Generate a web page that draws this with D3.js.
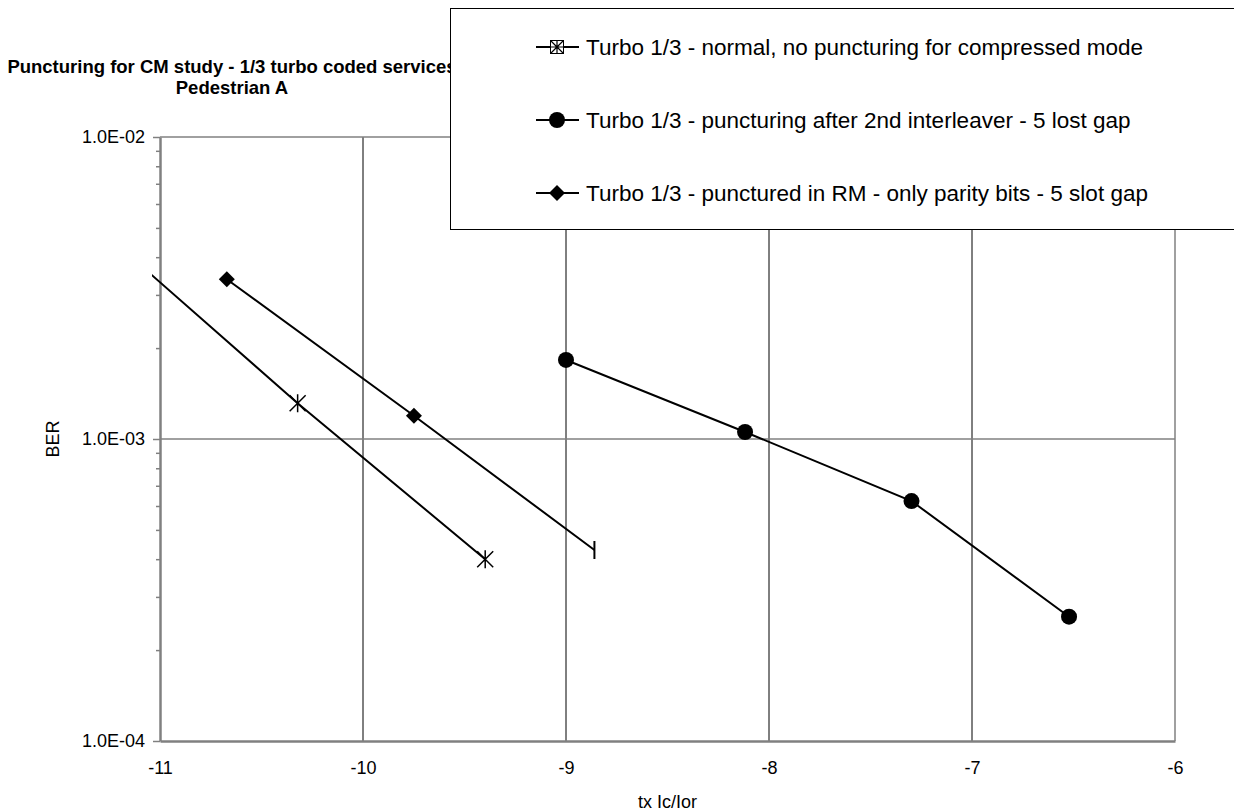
<html>
<head>
  <script src="https://d3js.org/d3.v7.min.js"></script>
  <meta charset="utf-8">
  <title>Puncturing for CM study</title>
<style>
body {
  margin: 0;
  background: #fff;
}
svg {
  background: #fff;
  font-family: "Liberation Sans", Arial, sans-serif;
}
</style>
</head>
<body>
<script>
var width = 1234,
    height = 812;

// chart text
var titleLines = ['Puncturing for CM study - 1/3 turbo coded services', 'Pedestrian A'];
var xTitle = 'tx Ic/Ior';
var yTitle = 'BER';
var xTicks = [-11, -10, -9, -8, -7, -6];
var yTicks = [1e-2, 1e-3, 1e-4];
var yTickLabels = ['1.0E-02', '1.0E-03', '1.0E-04'];
var yMinor = [2, 3, 4, 5, 6, 7, 8, 9];

// series (x = tx Ic/Ior, y = BER)
var seriesNames = [
  'Turbo 1/3 - normal, no puncturing for compressed mode',
  'Turbo 1/3 - puncturing after 2nd interleaver - 5 lost gap',
  'Turbo 1/3 - punctured in RM - only parity bits - 5 slot gap'
];
var normalX = [-11.3, -10.322, -9.398];
var normalY = [4.97e-3, 1.313e-3, 4.0e-4];
var interleaverX = [-9.0, -8.118, -7.298, -6.522];
var interleaverY = [1.827e-3, 1.055e-3, 6.23e-4, 2.58e-4];
var rmX = [-10.671, -9.749, -8.860];
var rmY = [3.38e-3, 1.194e-3, 4.29e-4];

var svg = d3.select('body').append('svg')
  .attr('width', width)
  .attr('height', height);

var plot = {left: 160, right: 1175, top: 137, bottom: 741};

var x = d3.scaleLinear().domain([-11, -6]).range([plot.left, plot.right]);
var y = d3.scaleLog().domain([1e-4, 1e-2]).range([plot.bottom, plot.top]);

var grey = '#808080';

// title
svg.append('g').selectAll('text')
  .data(titleLines)
  .enter().append('text')
  .attr('x', 232)
  .attr('y', function (d, i) { return 73 + i * 21; })
  .attr('text-anchor', 'middle')
  .style('font-size', '18.5px')
  .style('font-weight', 'bold')
  .text(function (d) { return d; });

// vertical gridlines
svg.append('g').selectAll('line')
  .data(xTicks.slice(1, -1))
  .enter().append('line')
  .attr('x1', function (d) { return x(d); })
  .attr('x2', function (d) { return x(d); })
  .attr('y1', plot.top)
  .attr('y2', plot.bottom)
  .style('stroke', '#000')
  .style('stroke-width', 1);

// horizontal gridlines
svg.append('g').selectAll('line')
  .data(yTicks.slice(0, -1))
  .enter().append('line')
  .attr('x1', plot.left)
  .attr('x2', plot.right)
  .attr('y1', function (d) { return y(d); })
  .attr('y2', function (d) { return y(d); })
  .style('stroke', grey)
  .style('stroke-width', 1.5);

// right border
svg.append('line')
  .attr('x1', plot.right).attr('x2', plot.right)
  .attr('y1', plot.top).attr('y2', plot.bottom)
  .style('stroke', grey)
  .style('stroke-width', 1.5);

// minor ticks on the y axis
var minor = [];
[1e-4, 1e-3].forEach(function (dec) {
  yMinor.forEach(function (m) { minor.push(dec * m); });
});
var yMinorAxis = d3.axisLeft(y).tickValues(minor).tickSize(4).tickFormat('');
var gyMinor = svg.append('g')
  .attr('transform', 'translate(' + plot.left + ',0)')
  .call(yMinorAxis);
gyMinor.select('.domain').remove();
gyMinor.selectAll('line').style('stroke', grey).style('stroke-width', 1.5);

// y axis
var yAxis = d3.axisLeft(y)
  .tickValues(yTicks)
  .tickSize(7)
  .tickPadding(8)
  .tickSizeOuter(0)
  .tickFormat(function (d, i) { return yTickLabels[i]; });
var gy = svg.append('g')
  .attr('transform', 'translate(' + plot.left + ',0)')
  .call(yAxis);
gy.select('.domain').style('stroke', grey).style('stroke-width', 2.5);
gy.selectAll('.tick line').style('stroke', grey).style('stroke-width', 1.5);
gy.selectAll('text')
  .style('font-family', '"Liberation Sans", Arial, sans-serif')
  .style('font-size', '18px')
  .style('fill', '#000');

// x axis
var xAxis = d3.axisBottom(x)
  .tickValues(xTicks)
  .tickSize(0)
  .tickSizeOuter(0)
  .tickPadding(20)
  .tickFormat(function (d) { return String(d); });
var gx = svg.append('g')
  .attr('transform', 'translate(0,' + plot.bottom + ')')
  .call(xAxis);
gx.select('.domain').style('stroke', grey).style('stroke-width', 2.5);
gx.selectAll('text')
  .style('font-family', '"Liberation Sans", Arial, sans-serif')
  .style('font-size', '18px')
  .style('fill', '#000');

// axis titles
svg.append('text')
  .attr('x', (plot.left + plot.right) / 2)
  .attr('y', 808)
  .attr('text-anchor', 'middle')
  .style('font-size', '18px')
  .text(xTitle);

svg.append('text')
  .attr('transform', 'translate(59,' + y(1e-3) + ') rotate(-90)')
  .attr('text-anchor', 'middle')
  .style('font-size', '18px')
  .text(yTitle);

// series
var series = [
  {name: seriesNames[0], xs: normalX, ys: normalY, marker: 'star'},
  {name: seriesNames[1], xs: interleaverX, ys: interleaverY, marker: 'circle'},
  {name: seriesNames[2], xs: rmX, ys: rmY, marker: 'diamond'}
];

svg.append('clipPath').attr('id', 'clip')
  .append('rect')
  .attr('x', plot.left - 8)
  .attr('y', plot.top)
  .attr('width', plot.right - plot.left + 8)
  .attr('height', plot.bottom - plot.top);

var line = d3.line()
  .x(function (d) { return x(d[0]); })
  .y(function (d) { return y(d[1]); });

series.forEach(function (s) {
  s.points = s.xs.map(function (v, i) { return [v, s.ys[i]]; });
});

svg.append('g')
  .attr('clip-path', 'url(#clip)')
  .selectAll('path')
  .data(series)
  .enter().append('path')
  .attr('d', function (d) { return line(d.points); })
  .style('fill', 'none')
  .style('stroke', '#000')
  .style('stroke-width', 2);

function drawMarker(g, type, cx, cy) {
  if (type === 'circle') {
    g.append('circle').attr('cx', cx).attr('cy', cy).attr('r', 8).style('fill', '#000');
  } else if (type === 'diamond') {
    g.append('path')
      .attr('d', 'M' + cx + ',' + (cy - 8) + 'L' + (cx + 8) + ',' + cy + 'L' + cx + ',' + (cy + 8) + 'L' + (cx - 8) + ',' + cy + 'Z')
      .style('fill', '#000');
  } else if (type === 'star') {
    g.append('path')
      .attr('d', 'M' + (cx - 8) + ',' + (cy - 8) + 'L' + (cx + 8) + ',' + (cy + 8) +
                 'M' + (cx + 8) + ',' + (cy - 8) + 'L' + (cx - 8) + ',' + (cy + 8) +
                 'M' + cx + ',' + (cy - 9) + 'L' + cx + ',' + (cy + 9))
      .style('stroke', '#000')
      .style('stroke-width', 1.5)
      .style('fill', 'none');
  } else if (type === 'dash') {
    g.append('line')
      .attr('x1', cx).attr('x2', cx)
      .attr('y1', cy - 9).attr('y2', cy + 9)
      .style('stroke', '#000')
      .style('stroke-width', 2);
  }
}

var markers = svg.append('g');
series.forEach(function (s) {
  s.points.forEach(function (p, i) {
    if (p[0] < -11) return;
    var type = s.marker;
    // last RM point is drawn as a plain bar
    if (s.marker === 'diamond' && i === s.points.length - 1) type = 'dash';
    drawMarker(markers, type, x(p[0]), y(p[1]));
  });
});

// legend
var legend = svg.append('g');
legend.append('rect')
  .attr('x', 450.5)
  .attr('y', 8.5)
  .attr('width', 800)
  .attr('height', 221)
  .style('fill', '#fff')
  .style('stroke', '#000')
  .style('stroke-width', 1);

var legendY = [47, 120, 193];
series.forEach(function (s, i) {
  var ly = legendY[i];
  legend.append('line')
    .attr('x1', 536).attr('x2', 579)
    .attr('y1', ly).attr('y2', ly)
    .style('stroke', '#000')
    .style('stroke-width', 2);
  if (s.marker === 'star') {
    legend.append('rect')
      .attr('x', 550.5).attr('y', ly - 6.5)
      .attr('width', 13).attr('height', 13)
      .style('fill', '#fff')
      .style('stroke', '#000')
      .style('stroke-width', 1);
    legend.append('path')
      .attr('d', 'M551,' + (ly - 6) + 'L563,' + (ly + 6) + 'M563,' + (ly - 6) + 'L551,' + (ly + 6) +
                 'M557,' + (ly - 6) + 'L557,' + (ly + 6) + 'M546,' + ly + 'L568,' + ly)
      .style('stroke', '#000')
      .style('stroke-width', 1.2);
  } else {
    drawMarker(legend, s.marker, 557, ly);
  }
  legend.append('text')
    .attr('x', 586)
    .attr('y', ly + 8)
    .style('font-size', '22.5px')
    .text(s.name);
});
</script>
</body>
</html>
